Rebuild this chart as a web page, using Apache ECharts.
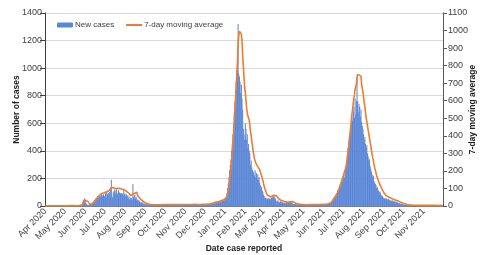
<!DOCTYPE html>
<html>
<head>
<meta charset="utf-8">
<script src="https://cdn.jsdelivr.net/npm/echarts@6/dist/echarts.min.js"></script>
<style>
html, body { margin: 0; padding: 0; background: #fff; }
#chart { width: 484px; height: 255px; }
</style>
</head>
<body>
<div id="chart"></div>
<script>
// daily new cases, one array per month (Apr 2020 - Nov 2021)
var apr20 = [2,0,1,3,0,2,1,0,4,2, 1,0,3,1,2,0,1,5,2,0, 1,3,0,2,1,4,0,2,1,3];
var may20 = [1,3,0,2,4,1,0,2,3,1, 5,2,0,1,3,2,4,1,0,3, 2,5,3,6,4,8,15,28,45,38, 55];
var jun20 = [40,22,12,8,10,6,9,7,11,14, 18,25,20,35,45,38,52,60,48,70, 66,55,80,72,64,90,70,78,85,68];
var jul20 = [75,92,60,110,88,70,95,102,80,118, 190,70,62,105,90,120,88,110,125,92, 80,115,100,96,88,95,88,90,70,112, 86];
var aug20 = [90,72,85,60,78,55,70,48,62,40, 58,45,160,62,75,80,55,68,50,42, 38,45,30,35,22,28,18,25,15,20, 12];
var sep20 = [14,10,16,9,12,8,11,7,9,6, 8,10,5,7,9,6,8,5,10,7, 6,9,5,8,7,11,6,9,8,7];
var oct20 = [9,6,11,7,8,12,5,9,10,6, 8,7,11,9,6,8,10,7,12,8, 6,9,11,7,8,10,6,9,7,11, 8];
var nov20 = [7,10,8,6,12,9,7,8,11,6, 9,10,7,8,12,6,9,8,10,7, 11,8,6,9,10,12,8,11,9,13];
var dec20 = [10,12,9,14,11,13,10,15,18,12, 20,16,22,19,25,18,28,24,30,22, 26,35,28,32,25,38,30,42,36,48, 40];
var jan21 = [45,60,58,95,130,165,210,260,300,340, 400,450,520,590,680,760,830,900,980,1040, 1320,960,940,900,820,880,780,700,560,520, 480];
var feb21 = [600,560,480,520,420,450,400,380,300,330, 280,260,240,250,220,260,210,240,200,230, 190,210,170,150,130,140,110,100];
var mar21 = [80,70,55,62,48,58,52,45,60,50, 55,48,62,58,70,65,72,60,55,40, 35,30,42,28,32,25,35,30,22,28, 26];
var apr21 = [24,20,26,18,22,19,25,21,30,28, 35,22,26,18,15,12,16,10,14,11, 9,12,8,10,7,11,9,8,10,7];
var may21 = [8,6,10,7,9,5,8,11,6,9, 7,10,8,6,9,12,7,8,10,6, 9,8,11,7,9,10,8,12,9,11, 10];
var jun21 = [9,12,8,11,14,10,16,13,18,22, 20,28,25,42,50,58,66,72,64,82, 90,105,118,120,140,155,138,185,195,180];
var jul21 = [210,230,205,260,290,330,370,420,460,480, 500,540,590,640,620,680,720,640,780,660, 760,930,760,680,740,720,650,700,610,580, 560];
var aug21 = [520,480,500,450,420,440,380,360,330,340, 290,270,250,230,210,220,180,170,160,150, 130,140,120,110,100,105,90,80,75,70, 62];
var sep21 = [58,52,60,48,55,50,45,52,40,46, 38,42,35,40,32,36,30,34,28,30, 25,28,22,24,18,20,15,16,12,13];
var oct21 = [10,11,8,9,7,8,6,7,5,6, 4,5,6,4,5,3,5,4,6,3, 4,5,3,4,2,5,3,4,3,2, 4];
var nov21 = [3,4,2,5,3,4,2,3,5,2, 4,3,2,4,3,5,2,3,4,2, 3,5,3,2,4,3,2,4,3,2];

var leftTicks = [0, 1400, 200];
var rightTicks = [0, 1100, 100];
var monthNames = ['Jan','Feb','Mar','Apr','May','Jun','Jul','Aug','Sep','Oct','Nov','Dec'];

var cases = [].concat(apr20, may20, jun20, jul20, aug20, sep20, oct20, nov20, dec20,
    jan21, feb21, mar21, apr21, may21, jun21, jul21, aug21, sep21, oct21, nov21);

// one category per day, starting 1 Apr 2020
var days = [];
for (var i = 0; i < cases.length; i++) {
    var d = new Date(Date.UTC(2020, 3, 1 + i));
    days.push(d.toISOString().slice(0, 10));
}

// trailing 7-day moving average
var avg7 = cases.map(function (v, i) {
    var s = 0, n = 0;
    for (var k = Math.max(0, i - 6); k <= i; k++) { s += cases[k]; n++; }
    return +(s / n).toFixed(1);
});

function firstOfMonth(index, value) { return value.slice(8) === '01'; }
function plain(v) { return String(v); }

var myChart = echarts.init(document.getElementById('chart'));
var option = {
    animation: false,
    textStyle: { fontFamily: 'Liberation Sans' },
    grid: { left: 45, right: 41, top: 13, bottom: 49, outerBoundsMode: 'none' },
    legend: {
        left: 52,
        top: 16,
        itemWidth: 16,
        itemHeight: 5,
        itemGap: 11,
        textStyle: { fontSize: 8, color: '#404040', padding: [0, 0, 0, -3] },
        data: [
            { name: 'New cases' },
            { name: '7-day moving average', itemStyle: { opacity: 0 } }
        ]
    },
    xAxis: {
        type: 'category',
        data: days,
        boundaryGap: true,
        name: 'Date case reported',
        nameLocation: 'middle',
        nameGap: 38,
        nameMoveOverlap: false,
        nameTextStyle: { fontSize: 8.5, fontWeight: 'bold', color: '#222' },
        axisLine: { lineStyle: { color: '#7f7f7f' } },
        axisTick: { interval: firstOfMonth, length: 4, lineStyle: { color: '#595959' } },
        axisLabel: {
            interval: firstOfMonth,
            rotate: 45,
            margin: 4,
            fontSize: 9,
            color: '#404040',
            formatter: function (v) {
                return monthNames[+v.slice(5, 7) - 1] + ' ' + v.slice(0, 4);
            }
        }
    },
    yAxis: [
        {
            type: 'value',
            min: leftTicks[0], max: leftTicks[1], interval: leftTicks[2],
            name: 'Number of cases',
            nameLocation: 'middle',
            nameGap: 24,
            nameRotate: 90,
            nameMoveOverlap: false,
            nameTextStyle: { fontSize: 8.5, fontWeight: 'bold', color: '#222' },
            axisLine: { show: true, lineStyle: { color: '#404040' } },
            axisTick: { show: true, length: 5, lineStyle: { color: '#404040' } },
            axisLabel: { fontSize: 9, margin: 3, color: '#404040', formatter: plain },
            splitLine: { lineStyle: { color: '#d9d9d9' } }
        },
        {
            type: 'value',
            position: 'right',
            min: rightTicks[0], max: rightTicks[1], interval: rightTicks[2],
            name: '7-day moving average',
            nameLocation: 'middle',
            nameGap: 25,
            nameRotate: 90,
            nameMoveOverlap: false,
            nameTextStyle: { fontSize: 8.5, fontWeight: 'bold', color: '#222' },
            axisLine: { show: true, lineStyle: { color: '#595959' } },
            axisTick: { show: true, length: 4, lineStyle: { color: '#595959' } },
            axisLabel: { fontSize: 9, margin: 5, color: '#404040', formatter: plain },
            splitLine: { show: false }
        }
    ],
    series: [
        {
            name: 'New cases',
            type: 'bar',
            yAxisIndex: 0,
            data: cases,
            barCategoryGap: '30%',
            itemStyle: { color: '#5a86d6' }
        },
        {
            name: '7-day moving average',
            type: 'line',
            yAxisIndex: 1,
            data: avg7,
            symbol: 'none',
            lineStyle: { color: '#ED7D31', width: 1.6 },
            itemStyle: { color: '#ED7D31' }
        }
    ]
};
myChart.setOption(option);
</script>
</body>
</html>
